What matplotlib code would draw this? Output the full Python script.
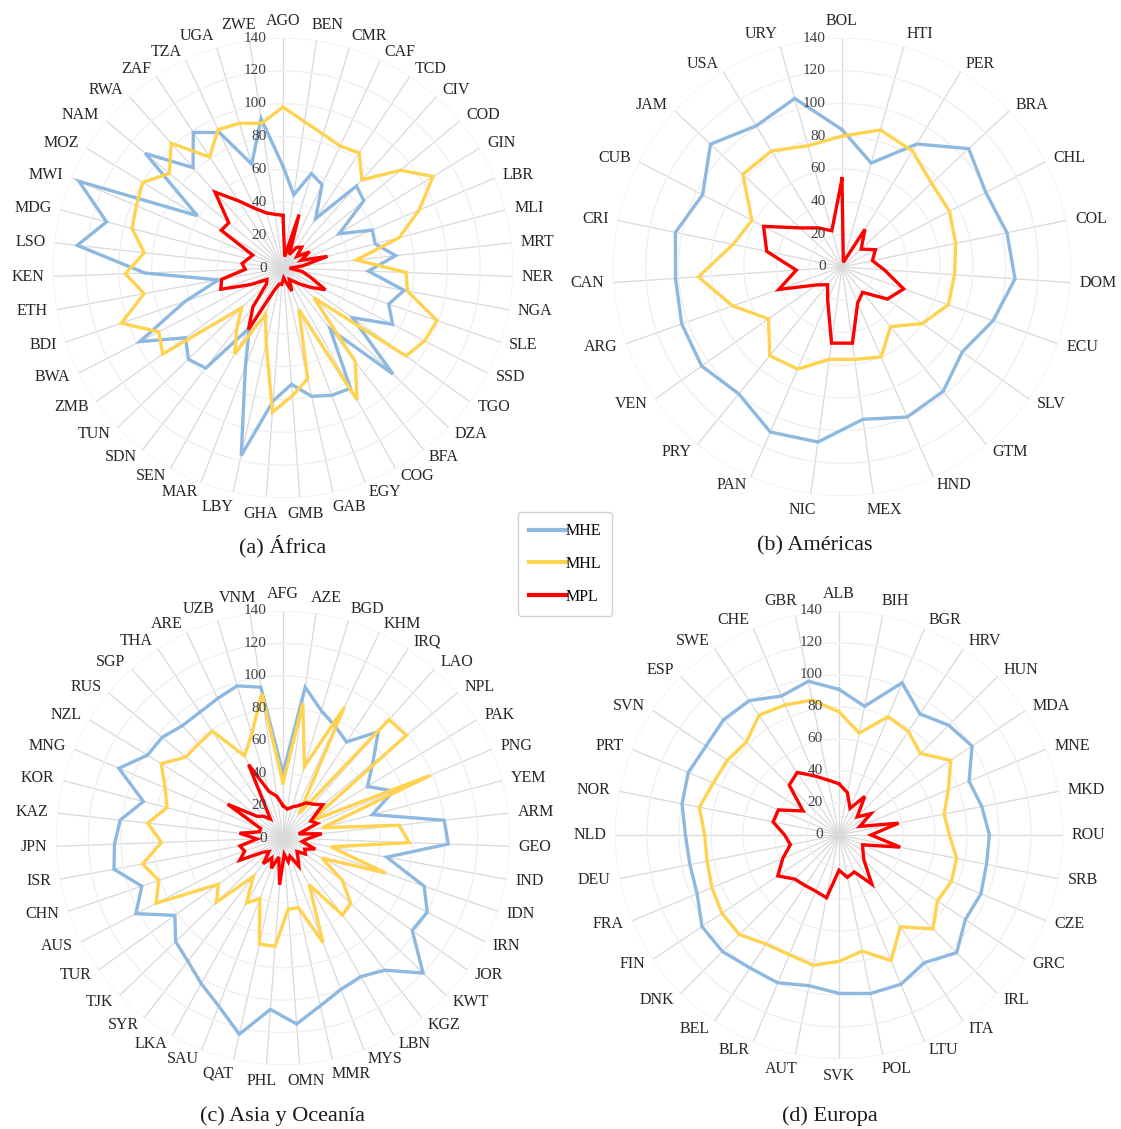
import numpy as np
import matplotlib.pyplot as plt
from matplotlib.lines import Line2D
from matplotlib.transforms import ScaledTranslation

plt.rcParams['font.family'] = ['Liberation Serif', 'DejaVu Serif']

# ---- África ----
africa = ['AGO', 'BEN', 'CMR', 'CAF', 'TCD', 'CIV', 'COD', 'GIN', 'LBR', 'MLI', 'MRT',
          'NER', 'NGA', 'SLE', 'SSD', 'TGO', 'DZA', 'BFA', 'COG', 'EGY', 'GAB', 'GMB',
          'GHA', 'LBY', 'MAR', 'SEN', 'SDN', 'TUN', 'ZMB', 'BWA', 'BDI', 'ETH', 'KEN',
          'LSO', 'MDG', 'MWI', 'MOZ', 'NAM', 'RWA', 'ZAF', 'TZA', 'UGA', 'ZWE']
africa_mhe = [62, 45, 60, 56, 36, 67, 64, 40, 59, 58, 69, 52, 75, 68, 75, 52, 93, 47, 84, 83, 80, 71,
              81, 117, 64, 42, 77, 80, 73, 98, 63, 40, 84, 126, 111, 135, 61, 109, 82, 99, 91, 66, 92]
africa_mhl = [98, 90, 85, 82, 84, 72, 93, 107, 90, 73, 45, 75, 77, 99, 97, 92, 26, 72, 92, 27, 69, 78,
              88, 47, 30, 60, 46, 35, 90, 85, 104, 86, 96, 85, 95, 97, 100, 90, 102, 81, 93, 92, 89]
africa_mpl = [32, 7, 34, 9, 15, 17, 11, 19, 12, 28, 12, 4, 12, 18, 29, 20, 14, 10, 8, 15, 9, 6,
              10, 10, 14, 43, 30, 14, 12, 22, 40, 38, 23, 25, 22, 20, 44, 43, 62, 49, 40, 35, 33]

# ---- Américas ----
americas = ['BOL', 'HTI', 'PER', 'BRA', 'CHL', 'COL', 'DOM', 'ECU', 'SLV', 'GTM', 'HND', 'MEX',
            'NIC', 'PAN', 'PRY', 'VEN', 'ARG', 'CAN', 'CRI', 'CUB', 'JAM', 'USA', 'URY']
americas_mhe = [84, 66, 88, 106, 99, 103, 106, 98, 90, 98, 100, 94,
                108, 110, 100, 105, 104, 102, 104, 96, 110, 101, 107]
americas_mhl = [80, 87, 83, 75, 74, 71, 69, 69, 60, 47, 60, 57,
                57, 68, 70, 55, 71, 88, 68, 62, 83, 83, 77]
americas_mpl = [54, 3, 27, 16, 23, 19, 26, 40, 34, 20, 24, 47,
                47, 22, 14, 19, 41, 28, 47, 54, 35, 28, 23]

# ---- Asia y Oceanía ----
asia = ['AFG', 'AZE', 'BGD', 'KHM', 'IRQ', 'LAO', 'NPL', 'PAK', 'PNG', 'YEM', 'ARM', 'GEO',
        'IND', 'IDN', 'IRN', 'JOR', 'KWT', 'KGZ', 'LBN', 'MYS', 'MMR', 'OMN', 'PHL', 'QAT',
        'SAU', 'LKA', 'SYR', 'TJK', 'TUR', 'AUS', 'CHN', 'ISR', 'JPN', 'KAZ', 'KOR', 'MNG',
        'NZL', 'RUS', 'SGP', 'THA', 'ARE', 'UZB', 'VNM']
asia_mhe = [40, 94, 82, 76, 71, 88, 72, 61, 74, 57, 100, 102,
            65, 92, 100, 98, 120, 103, 98, 100, 106, 115, 106, 124,
            111, 103, 96, 92, 82, 102, 92, 106, 104, 101, 89, 110,
            98, 97, 93, 93, 95, 98, 94]
asia_mhl = [34, 84, 46, 89, 18, 98, 99, 20, 99, 25, 72, 78,
            30, 67, 27, 45, 58, 60, 33, 69, 44, 44, 67, 67,
            40, 46, 30, 57, 49, 88, 81, 88, 75, 84, 74, 79,
            88, 78, 78, 79, 56, 67, 90]
asia_mpl = [20, 18, 20, 22, 26, 28, 32, 20, 23, 10, 24, 15,
            12, 21, 15, 17, 12, 15, 20, 12, 15, 10, 29, 12,
            20, 14, 20, 12, 15, 30, 25, 27, 16, 27, 15, 15,
            40, 21, 18, 14, 50, 30, 26]

# ---- Europa ----
europe = ['ALB', 'BIH', 'BGR', 'HRV', 'HUN', 'MDA', 'MNE', 'MKD', 'ROU', 'SRB', 'CZE', 'GRC',
          'IRL', 'ITA', 'LTU', 'POL', 'SVK', 'AUT', 'BLR', 'BEL', 'DNK', 'FIN', 'FRA', 'DEU',
          'NLD', 'NOR', 'PRT', 'SVN', 'ESP', 'SWE', 'CHE', 'GBR']
europe_mhe = [91, 82, 103, 91, 97, 100, 88, 91, 94, 94, 96, 95,
              104, 96, 101, 101, 99, 96, 100, 100, 103, 103, 96, 95,
              96, 100, 102, 100, 102, 101, 94, 98]
europe_mhl = [77, 65, 80, 78, 72, 84, 74, 67, 69, 75, 76, 74,
              83, 69, 85, 74, 79, 83, 81, 82, 88, 88, 86, 84,
              84, 89, 85, 84, 82, 90, 88, 86]
europe_mpl = [32, 27, 18, 29, 16, 24, 14, 38, 20, 39, 16, 18,
              22, 37, 25, 27, 22, 40, 38, 38, 39, 46, 38, 31,
              34, 42, 41, 27, 44, 47, 40, 35]

C_MHE = '#8db8e0'
C_MHL = '#ffd24f'
C_MPL = '#ff0000'

W, H = 1121, 1129
fig = plt.figure(figsize=(W / 100, H / 100), dpi=100)


def px(v):
    return v / 100  # pixels -> inches at 100 dpi


def radar(cx, cy, R, codes, mhe, mhl, mpl):
    rect = [(cx - R) / W, 1 - (cy + R) / H, 2 * R / W, 2 * R / H]
    ax = fig.add_axes(rect, projection='polar')
    n = len(codes)
    ang = np.arange(n) * 2 * np.pi / n
    ax.set_theta_zero_location('N')
    ax.set_theta_direction(-1)
    ax.set_ylim(0, 140)
    ax.set_xticks(ang)
    ax.set_xticklabels([])
    ax.set_yticks(np.arange(20, 141, 20))
    ax.set_yticklabels([])
    ax.tick_params(length=0)
    ax.xaxis.grid(True, color='#d9d9d9', lw=0.9)
    ax.yaxis.grid(True, color='#eeeef4', lw=0.9)
    ax.spines['polar'].set_visible(False)
    ax.patch.set_alpha(0)

    closed = np.append(ang, ang[0])
    for vals, col in ((mhe, C_MHE), (mhl, C_MHL), (mpl, C_MPL)):
        ax.plot(closed, np.append(vals, vals[0]), color=col, lw=2.4,
                solid_joinstyle='miter', clip_on=False, zorder=3)

    # radial scale along the top spoke
    off = ScaledTranslation(px(-16), 0, fig.dpi_scale_trans)
    for v in range(0, 141, 20):
        ax.text(0, v, str(v), ha='right', va='center', fontsize=11,
                color='#404040', transform=ax.transData + off, zorder=4)

    # category labels just outside the outer ring
    fig.canvas.draw()
    renderer = fig.canvas.get_renderer()
    pad = 9
    for a, code in zip(ang, codes):
        t = ax.text(a, 140, code, ha='center', va='center', fontsize=11.5,
                    color='#262626')
        bb = t.get_window_extent(renderer)
        s, c = np.sin(a), np.cos(a)
        f = np.clip(s / 0.25, -1, 1)
        g = np.clip((abs(c) - 0.93) / 0.07, 0, 1) * np.sign(c)
        dx = s * pad + f * bb.width / 2
        dy = c * pad + g * bb.height / 2
        t.set_transform(ax.transData + ScaledTranslation(px(dx), px(dy), fig.dpi_scale_trans))
    return ax


radar(283, 268, 230, africa, africa_mhe, africa_mhl, africa_mpl)
radar(842, 267, 229, americas, americas_mhe, americas_mhl, americas_mpl)
radar(283, 838, 227, asia, asia_mhe, asia_mhl, asia_mpl)
radar(839, 835, 224, europe, europe_mhe, europe_mhl, europe_mpl)

for x, y, title in ((283, 546, '(a) África'), (815, 546, '(b) Américas'),
                    (283, 1116, '(c) Asia y Oceanía'), (830, 1116, '(d) Europa')):
    fig.text(x / W, 1 - y / H, title, ha='center', va='center', fontsize=16, color='#1a1a1a')

handles = [Line2D([], [], color=C_MHE, lw=3), Line2D([], [], color=C_MHL, lw=3),
           Line2D([], [], color=C_MPL, lw=3)]
leg = fig.legend(handles, ['MHE', 'MHL', 'MPL'], loc='center',
                 bbox_to_anchor=(565 / W, 1 - 564 / H), fontsize=11.5, frameon=True,
                 fancybox=True, handlelength=2.3, handletextpad=0.0, labelspacing=1.05,
                 borderpad=0.7, borderaxespad=0)
leg.get_frame().set_edgecolor('#c8c8c8')
leg.get_frame().set_linewidth(1.0)

fig.savefig('out.png', dpi=100)
